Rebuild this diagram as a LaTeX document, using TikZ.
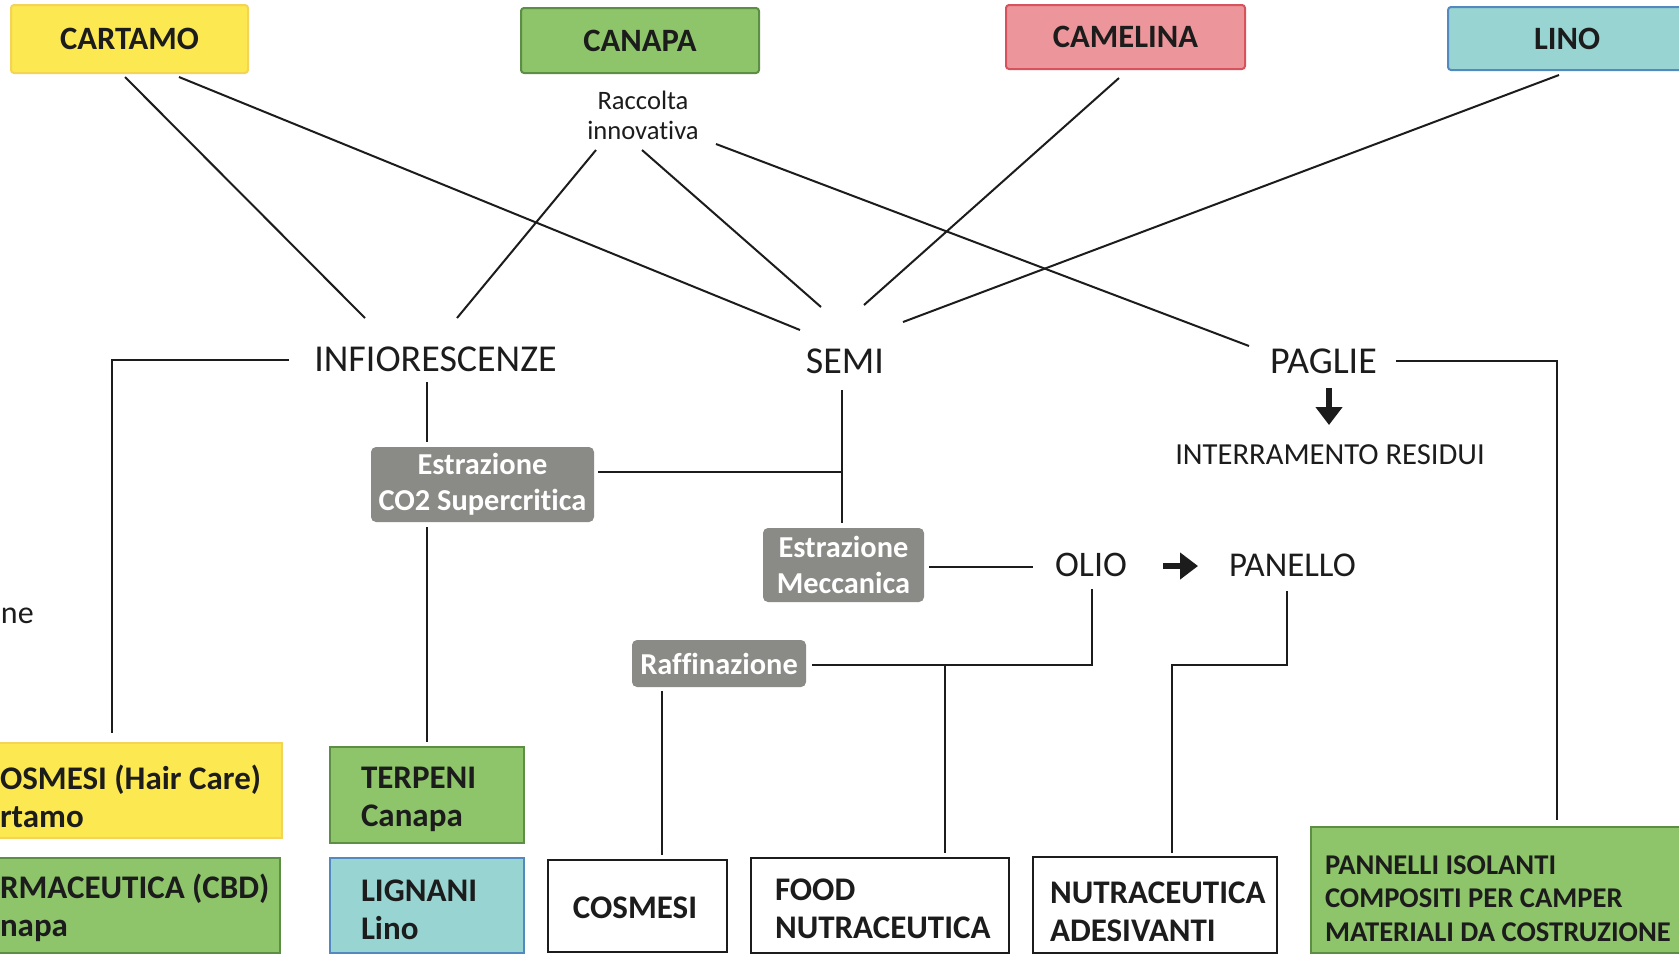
\documentclass[tikz,border=0pt]{standalone}
\usepackage{fontspec}
\setmainfont{Carlito}[Ligatures=NoCommon]
\usetikzlibrary{calc,arrows.meta}
\definecolor{txt}{RGB}{28,28,28}
\definecolor{yfill}{RGB}{252,232,80}
\definecolor{yline}{RGB}{244,212,86}
\definecolor{gfill}{RGB}{142,196,106}
\definecolor{gline}{RGB}{92,142,68}
\definecolor{pfill}{RGB}{236,150,155}
\definecolor{pline}{RGB}{214,82,92}
\definecolor{tfill}{RGB}{152,212,210}
\definecolor{tline}{RGB}{82,138,192}
\definecolor{grayb}{RGB}{138,138,134}
\newcommand{\myfs}[2]{\fontsize{#1}{#2}\selectfont}
\begin{document}
\begin{tikzpicture}[x=0.5pt,y=-0.5pt,
  every node/.style={outer sep=0pt},
  topbox/.style={line width=1pt, rounded corners=1.5pt, font=\myfs{16.3}{20}\bfseries, text=txt, minimum height=34pt, inner sep=0pt},
  graybox/.style={fill=grayb, rounded corners=2.5pt, text=white, font=\myfs{15.2}{18}\bfseries, align=center, inner sep=0pt},
  botbox/.style={line width=1.1pt, inner sep=0pt},
  bottxt/.style={inner sep=0pt, font=\myfs{16.5}{19}\bfseries, text=txt, align=left, anchor=west},
  lbl/.style={inner sep=0pt, font=\myfs{19}{22}, text=txt},
  conn/.style={line width=1pt, draw=txt},
  heavy/.style={line width=3pt, draw=txt, -{Triangle[width=13pt,length=9pt]}}
]
\useasboundingbox (0,0) rectangle (1679,955);
\clip (0,0) rectangle (1679,955);

% top boxes
\node[topbox, fill=yfill, draw=yline, minimum width=118.5pt] (cartamo) at (129.5,39) {CARTAMO};
\node[topbox, fill=gfill, draw=gline, minimum width=119pt, minimum height=32.5pt] (canapa) at (640,40.5) {CANAPA};
\node[topbox, fill=pfill, draw=pline, minimum width=119.5pt, minimum height=32pt] (camelina) at (1125.5,37) {CAMELINA};
\node[topbox, fill=tfill, draw=tline, minimum width=119pt, minimum height=31.5pt] (lino) at (1567,38.5) {LINO};
\node[lbl, font=\myfs{13.3}{15}, align=center] (racc) at (643,115) {Raccolta\\innovativa};

% middle labels
\node[lbl] (infior) at (435.5,359) {INFIORESCENZE};
\node[lbl] (semi) at (845,361) {SEMI};
\node[lbl] (paglie) at (1323.5,361) {PAGLIE};
\node[lbl, font=\myfs{15.3}{18}] (interr) at (1330,455) {INTERRAMENTO RESIDUI};
\node[lbl, font=\myfs{18}{22}] (olio) at (1091,565) {OLIO};
\node[lbl, font=\myfs{17.4}{22}] (panello) at (1292.5,565) {PANELLO};
\node[lbl, font=\myfs{16}{20}, anchor=base west] (ne) at (1,623) {ne};

% gray process boxes
\node[graybox, minimum width=111.5pt, minimum height=37.5pt] (co2) at (482.5,484.5) {Estrazione\\CO2 Supercritica};
\node[graybox, minimum width=80.5pt, minimum height=37pt] (mecc) at (843.5,565) {Estrazione\\Meccanica};
\node[graybox, minimum width=87pt, minimum height=23.5pt] (raff) at (719,663.5) {Raffinazione};

% bottom boxes
\node[botbox, fill=yfill, draw=yline, minimum width=170pt, minimum height=47.5pt] (cosmhc) at (112,790.5) {};
\node[bottxt] (cosmhct) at (0,796) {OSMESI (Hair Care)\\rtamo};
\node[botbox, fill=gfill, draw=gline, minimum width=169pt, minimum height=47.5pt] (farm) at (111,905.5) {};
\node[bottxt] (farmt) at (0,908) {RMACEUTICA (CBD)\\napa};
\node[botbox, fill=gfill, draw=gline, minimum width=97pt, minimum height=48pt] (terpeni) at (427,795) {};
\node[bottxt] (terpenit) at (361,799) {TERPENI\\Canapa};
\node[botbox, fill=tfill, draw=tline, minimum width=97pt, minimum height=47.5pt] (lignani) at (427,905.5) {};
\node[bottxt] (lignanit) at (361,910) {LIGNANI\\Lino};
\node[botbox, fill=white, draw=txt, minimum width=89.5pt, minimum height=46pt] (cosmesi) at (637.5,906) {};
\node[bottxt, anchor=center] (cosmesit) at (635,908) {COSMESI};
\node[botbox, fill=white, draw=txt, minimum width=129pt, minimum height=47.5pt] (food) at (880,905.5) {};
\node[bottxt] (foodt) at (775,909) {FOOD\\NUTRACEUTICA};
\node[botbox, fill=white, draw=txt, minimum width=122pt, minimum height=48pt] (nutra) at (1155,905) {};
\node[bottxt] (nutrat) at (1050,911.5) {NUTRACEUTICA\\ADESIVANTI};
\node[botbox, fill=gfill, draw=gline, minimum width=194.5pt, minimum height=63pt] (pannelli) at (1505.5,890) {};
\node[bottxt, font=\myfs{14.3}{16.75}\bfseries] (pannellit) at (1325,898.5) {PANNELLI ISOLANTI\\COMPOSITI PER CAMPER\\MATERIALI DA COSTRUZIONE};

% diagonal connectors
\draw[conn] ($(cartamo.south)+(-4.5,4)$) -- ($(infior.center)+(-70.5,-41)$);
\draw[conn] ($(cartamo.south)+(49.5,4)$) -- ($(semi.center)+(-45,-31)$);
\draw[conn] ($(racc.center)+(-47,35)$) -- ($(infior.center)+(21.5,-41)$);
\draw[conn] ($(racc.center)+(-1,35)$) -- ($(semi.center)+(-24,-54)$);
\draw[conn] ($(racc.center)+(73,29)$) -- ($(paglie.center)+(-74.5,-15)$);
\draw[conn] ($(camelina.south)+(-6.5,9)$) -- ($(semi.center)+(19,-56)$);
\draw[conn] ($(lino.south)+(-8,5)$) -- ($(semi.center)+(58,-39)$);

% orthogonal connectors
\draw[conn] ($(infior.center)+(-146.5,1)$) -| ($(cosmhc.north)+(0,-10)$);
\draw[conn] ($(infior.center)+(-8.5,23)$) -- ($(co2.north)+(-55.5,-5)$);
\draw[conn] ($(co2.south)+(-55.5,5)$) -- ($(terpeni.north)+(0,-5)$);
\draw[conn] ($(semi.center)+(-3,29)$) -- ($(mecc.north)+(-1.5,-5)$);
\draw[conn] ($(co2.east)+(4,-12.5)$) -- ($(semi.center)+(-3,111)$);
\draw[conn] ($(mecc.east)+(5,2)$) -- ($(olio.center)+(-58,2)$);
\draw[conn] ($(olio.center)+(1,24)$) |- ($(raff.east)+(6,1.5)$);
\draw[conn] ($(food.north)+(65,-193)$) -- ($(food.north)+(65,-5)$);
\draw[conn] ($(raff.south)+(-57,4)$) -- ($(cosmesi.north)+(24.5,-5)$);
\draw[conn] ($(panello.center)+(-5.5,26)$) |- ($(nutra.north)+(17,-192)$) -- ($(nutra.north)+(17,-4)$);
\draw[conn] ($(paglie.center)+(72.5,0)$) -| ($(pannelli.north)+(51.5,-7)$);

% heavy arrows
\draw[heavy] ($(paglie.center)+(5.5,27)$) -- ($(interr.center)+(-1,-30)$);
\draw[heavy] ($(olio.center)+(72,1)$) -- ($(panello.center)+(-94.5,1)$);
\end{tikzpicture}
\end{document}
